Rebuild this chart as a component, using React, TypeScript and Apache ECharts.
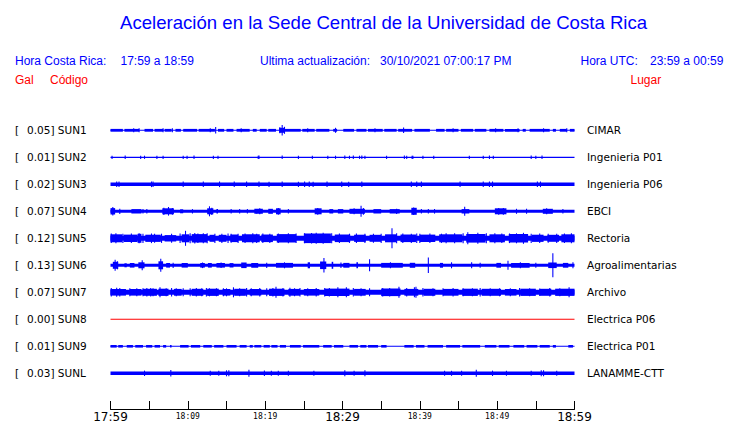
import React, { useEffect, useRef } from "react";
import * as echarts from "echarts";

// ---------- data ----------
const codes = ["SUN1", "SUN2", "SUN3", "SUN4", "SUN5", "SUN6", "SUN7", "SUN8", "SUN9", "SUNL"];
const places = ["CIMAR", "Ingenieria P01", "Ingenieria P06", "EBCI", "Rectoria", "Agroalimentarias", "Archivo", "Electrica P06", "Electrica P01", "LANAMME-CTT"];
const galPeaks = ["0.05", "0.01", "0.02", "0.07", "0.12", "0.13", "0.07", "0.00", "0.01", "0.03"];

// half-amplitude of the continuous band of each trace (display units)
const baseAmp = [0.5, 0.6, 1.7, 1.5, 2.5, 1.5, 2.5, 0.5, 0.5, 1.7];

// bursts: [startMinute, endMinute, halfAmplitude]  (minutes after 17:59)
const sun1Bursts = [[0, 1.6, 1.4], [1.8, 3.7, 1.4], [4.4, 5.5, 1.4], [5.7, 6.8, 1.4], [7.0, 7.9, 1.4], [8.4, 9.1, 1.4], [9.4, 11.2, 1.4], [11.4, 13.5, 1.4], [13.9, 14.7, 1.4], [15.0, 15.9, 1.4], [16.3, 18.0, 1.4], [18.4, 18.9, 1.4], [19.3, 20.2, 1.4], [20.4, 21.4, 1.4], [21.8, 22.5, 2.5], [22.5, 24.6, 1.4], [24.8, 26.4, 1.4], [26.6, 28.3, 1.4], [28.8, 29.3, 1.4], [30.1, 31.5, 1.4], [31.8, 33.1, 1.4], [33.3, 35.2, 1.4], [35.4, 37.0, 1.4], [37.2, 39.0, 1.4], [39.3, 41.3, 1.4], [42.1, 43.2, 1.4], [43.4, 45.0, 1.4], [45.3, 46.9, 1.4], [47.1, 48.6, 1.4], [49.0, 50.8, 1.4], [51.0, 52.9, 1.4], [53.3, 53.7, 1.4], [54.2, 56.8, 1.4], [57.2, 57.6, 1.4], [58.1, 59.0, 1.4], [59.4, 60, 1.4]];
const sun2Bursts = [];
const sun3Bursts = [];
const sun4Bursts = [[0, 0.6, 3.2], [2.7, 4.0, 2.2], [6.7, 8.2, 3.0], [9.0, 9.4, 2], [12.5, 13.3, 3.0], [13.7, 13.9, 2.2], [18.6, 19.7, 2.5], [20.4, 21.0, 2.5], [21.4, 22.0, 3], [26.4, 27.3, 3], [28.3, 28.8, 2.2], [29.4, 30.1, 2.2], [30.9, 32.9, 2.5], [34.0, 35.0, 2.2], [36.1, 37.4, 2.2], [38.9, 39.6, 3.5], [45.4, 46.4, 2.2], [49.7, 51.2, 3], [55.9, 57.2, 2.5]];
const sun5Bursts = [[0, 1.5, 4], [1.7, 3.5, 3.7], [3.5, 4.0, 4.5], [4.5, 6.5, 3.6], [7.0, 8.5, 3.2], [9.2, 10.2, 4], [10.5, 12.5, 4.2], [12.8, 13.5, 3.5], [14.0, 15.0, 3.5], [15.5, 16.5, 3.8], [17.0, 19.3, 4], [19.5, 21.0, 3.8], [21.5, 24.0, 4.2], [25.0, 28.5, 4.8], [29.0, 31.0, 3.8], [31.5, 33.0, 3.6], [33.5, 35.0, 3.5], [35.5, 37.0, 4], [37.5, 39.5, 3.8], [40, 42, 3.7], [42.5, 45.5, 4], [46, 48.5, 4.3], [49, 51, 4], [51.5, 54, 4.3], [54.5, 56, 3.6], [56.5, 58, 3.5], [58.3, 60, 4]];
const sun6Bursts = [[0.3, 1.0, 3.5], [1.8, 2.1, 2], [2.5, 3.1, 2.3], [3.6, 4.4, 3], [6.2, 6.8, 4], [7.2, 7.7, 2.3], [9.2, 10.0, 2.3], [11.6, 12.2, 2.3], [12.6, 13.1, 2.3], [13.7, 14.8, 2.3], [15.4, 15.9, 2.2], [16.9, 17.6, 2.8], [18.2, 19.1, 2.4], [21.4, 23.6, 2.4], [25.5, 25.8, 3], [27.1, 27.9, 3.8], [28.6, 28.8, 3.5], [30.1, 30.9, 2.4], [31.8, 32.0, 3], [35.0, 37.8, 2.4], [38.7, 39.4, 2.5], [42.6, 43.0, 2.4], [49.9, 50.5, 2.4], [51.8, 54.2, 2.4], [56.6, 57.7, 2.8], [58.5, 59.2, 2.4]];
const sun7Bursts = [[0, 2, 3.3], [2.5, 4, 3.3], [4.2, 6.0, 3.5], [6.2, 7.5, 3.6], [8.2, 9.2, 3.4], [10.5, 12, 3.5], [12.5, 14, 3.6], [14.5, 15.5, 3.3], [16, 17.5, 3.5], [18, 19.5, 3.3], [20.5, 22.5, 3.6], [23, 24.5, 3.4], [25, 27, 3.3], [27.7, 30.9, 3.7], [31.5, 33, 3.4], [35, 37.5, 3.8], [38, 39.8, 3.4], [40.5, 42, 3.5], [43, 45, 3.4], [45.5, 47.5, 3.6], [48, 50.5, 3.5], [51, 52.5, 3.3], [53, 55, 3.6], [55.5, 57, 3.5], [57.5, 60, 3.6]];
const sun8Bursts = [];
const sun9Bursts = [[0, 0.8, 1.3], [1.0, 1.6, 1.3], [2.1, 2.9, 1.3], [3.2, 4.2, 1.3], [4.6, 5.4, 1.3], [5.7, 6.4, 1.3], [6.8, 7.2, 1.3], [7.7, 7.9, 1.3], [9.0, 10.1, 1.3], [10.4, 11.6, 1.3], [12.0, 13.1, 1.3], [13.4, 14.6, 1.3], [15.0, 16.3, 1.3], [16.7, 17.6, 1.3], [18.0, 18.4, 1.3], [18.6, 19.5, 1.3], [19.8, 20.6, 1.3], [20.8, 21.6, 1.3], [21.9, 22.7, 1.3], [23.2, 24.6, 1.3], [24.9, 27.0, 1.3], [27.5, 28.6, 1.3], [28.9, 30.1, 1.3], [30.9, 32.0, 1.3], [32.3, 33.1, 1.3], [33.3, 34.6, 1.3], [35.0, 35.7, 1.3], [38.0, 39.2, 1.3], [39.5, 40.6, 1.3], [41.0, 43.0, 1.3], [43.4, 45.2, 1.3], [45.5, 47.8, 1.3], [48.4, 49.9, 1.3], [50.2, 51.6, 1.3], [52.1, 53.5, 1.3], [53.8, 55.2, 1.3], [55.5, 56.8, 1.3], [57.2, 57.6, 1.3], [59.2, 59.8, 1.3]];
const sunLBursts = [];

// spikes: [minute, halfAmplitude]
const sun1Spikes = [[3.0, 2], [3.7, 2], [6.8, 2], [8.0, 2], [12.9, 2], [13.6, 3.2], [16.9, 2], [21.9, 3], [22.2, 5.3], [22.5, 3.5], [25.5, 2], [29.1, 2.5], [34.2, 2], [37.9, 2.7], [44.3, 2], [49.8, 2], [52.7, 2], [56.0, 2], [59.0, 2]];
const sun2Spikes = [[0.2, 1.6], [1.9, 1.8], [3.9, 1.6], [4.4, 1.6], [6.0, 1.6], [6.8, 1.6], [9.4, 1.6], [9.9, 1.6], [10.8, 1.8], [13.3, 1.6], [13.9, 1.6], [19.1, 1.6], [19.2, 1.8], [22.2, 1.8], [24.3, 1.6], [26.1, 1.6], [28.1, 1.6], [29.1, 1.6], [30.3, 1.8], [30.9, 1.6], [31.4, 1.8], [32.2, 1.6], [32.5, 1.8], [32.9, 1.6], [35.7, 1.6], [38.0, 1.8], [38.3, 1.6], [39.0, 1.6], [39.1, 1.6], [40.4, 1.6], [41.8, 1.6], [46.4, 1.6], [48.2, 1.6], [49.0, 1.8], [49.5, 1.6], [54.4, 1.8], [55.0, 1.6], [55.8, 1.8]];
const sun3Spikes = [[0.8, 2.8], [1.1, 2.8], [5.3, 2.8], [5.5, 2.8], [9.4, 2.8], [12.0, 2.8], [14.1, 2.8], [16.0, 2.8], [17.6, 2.8], [19.2, 2.8], [20.5, 2.6], [22.2, 2.8], [24.3, 2.6], [25.1, 2.8], [25.7, 2.8], [26.2, 2.6], [28.0, 2.8], [29.9, 2.8], [30.8, 2.6], [32.5, 2.8], [39.6, 2.8], [38.9, 2.8], [40.2, 2.8], [45.2, 2.8], [48.2, 2.8], [49.0, 2.8], [49.4, 2.8], [55.2, 2.8], [55.6, 2.8]];
const sun4Spikes = [[0.3, 4.2], [1.2, 2.6], [4.2, 2.2], [4.7, 2.2], [6.9, 3.6], [7.5, 4.3], [8.0, 3.4], [10.6, 2.2], [12.8, 5], [13.1, 3.6], [15.6, 2.2], [16.7, 2.2], [17.7, 2.2], [18.9, 2.2], [19.3, 3], [21.7, 3.4], [23.0, 2.3], [26.8, 3.4], [31.5, 3], [32.4, 5.5], [32.7, 3.4], [37.0, 2.6], [39.2, 3.8], [40.2, 2.3], [41.1, 2.3], [41.9, 2.3], [45.8, 4.5], [50.2, 3.4], [50.8, 3.4], [52.5, 2.5], [53.8, 2.5], [56.4, 3], [58.5, 2.3]];
const sun5Spikes = [[0.1, 4.8], [0.7, 5], [1.6, 4.6], [2.7, 4.8], [3.7, 5], [4.2, 4.6], [5.3, 4.8], [5.7, 4.5], [6.6, 4.6], [7.9, 4.5], [9.0, 4.8], [9.7, 7.5], [10.3, 5], [10.9, 5.2], [11.3, 4.8], [12.0, 5], [12.5, 5], [13.5, 4.6], [14.4, 4.6], [15.2, 4.8], [15.6, 4.5], [16.5, 4.6], [17.4, 4.8], [18.4, 5], [18.9, 4.6], [19.7, 4.8], [20.6, 4.6], [21.7, 4.8], [23.0, 5], [24.0, 4.8], [25.1, 5], [26.0, 5.2], [26.6, 5.5], [27.5, 5.5], [28.6, 5], [29.6, 4.8], [30.9, 4.6], [31.8, 4.8], [32.9, 4.6], [34.0, 4.5], [35.0, 4.6], [36.4, 10], [37.0, 5], [37.8, 4.8], [38.9, 4.6], [39.6, 4.8], [40.0, 4.6], [41.3, 4.8], [42.8, 4.6], [43.4, 5], [44.5, 5], [45.6, 5], [46.2, 6], [47.5, 5.5], [48.6, 5], [49.7, 5], [50.6, 4.8], [51.6, 4.8], [52.5, 5], [53.4, 5.5], [54.4, 4.6], [55.5, 4.8], [56.6, 4.5], [57.7, 4.6], [58.7, 4.8], [59.6, 5]];
const sun6Spikes = [[0.6, 5.5], [0.9, 4], [4.1, 5], [6.5, 6.5], [8.1, 2.6], [11.9, 2.8], [14.3, 2.8], [20.2, 2.6], [22.5, 3], [27.6, 7.2], [29.8, 2.8], [33.5, 6], [36.2, 3], [41.1, 7.8], [44.1, 3], [46.7, 3], [47.8, 2.5], [51.4, 4.5], [53.0, 3], [55, 2.5], [57.2, 12], [59.8, 3]];
const sun7Spikes = [[0.1, 4.2], [0.8, 4.5], [1.2, 4.2], [2.5, 4], [3.4, 4], [4.2, 4], [4.7, 4.2], [5.2, 4.2], [5.5, 4], [6.4, 5], [7.2, 4], [7.9, 4.2], [8.5, 4], [9.4, 4], [10.3, 4], [11.1, 4.3], [11.8, 4], [12.4, 4.2], [12.8, 4], [13.7, 4], [14.6, 4], [15.0, 4], [15.9, 5], [16.7, 4], [17.6, 4.2], [18.2, 4], [19.3, 4.2], [20.2, 4], [21.0, 4.2], [21.4, 5.5], [22.3, 4.2], [23.2, 4.5], [23.8, 4], [24.5, 4.2], [25.5, 4], [26.6, 4.2], [27.7, 4.3], [28.3, 4.2], [29.4, 5], [30.5, 5], [31.4, 4.2], [32.4, 4], [33.5, 4], [35.2, 4.2], [36.1, 4.3], [37.3, 5.5], [38.3, 4.2], [39.3, 5], [39.5, 5.5], [40.4, 4.2], [41.7, 4], [43.0, 4], [44.3, 4.2], [45.6, 4], [46.8, 4], [47.8, 4.2], [49.1, 4], [50.3, 4], [51.7, 4], [52.9, 4.2], [54.2, 4], [55.5, 3.8], [56.8, 4.2], [58.1, 4], [59.3, 5]];
const sun8Spikes = [];
const sun9Spikes = [];
const sunLSpikes = [[4.4, 2.7], [7.8, 3.3], [12.9, 2.5], [14.0, 2.5], [15.0, 3], [15.3, 3], [17.9, 3.5], [19.9, 2.7], [20.8, 2.5], [21.7, 2.5], [23.0, 2.5], [26.3, 2.5], [30.3, 3], [31.5, 2.5], [32.9, 3], [43.2, 2.5], [44.1, 2.5], [45.4, 2.5], [47.3, 3.5], [49.4, 2.7], [51.2, 2.5], [54.4, 2.5], [55.7, 3], [56.0, 3], [57.7, 2.5]];

const bursts = [sun1Bursts, sun2Bursts, sun3Bursts, sun4Bursts, sun5Bursts, sun6Bursts, sun7Bursts, sun8Bursts, sun9Bursts, sunLBursts];
const spikes = [sun1Spikes, sun2Spikes, sun3Spikes, sun4Spikes, sun5Spikes, sun6Spikes, sun7Spikes, sun8Spikes, sun9Spikes, sunLSpikes];

const tickLabels = ["17:59", "18:04", "18:09", "18:14", "18:19", "18:24", "18:29", "18:34", "18:39", "18:44", "18:49", "18:54", "18:59"];
const bigLabels = ["17:59", "18:29", "18:59"];
const smallLabels = ["18:09", "18:19", "18:39", "18:49"];

// ---------- styling / layout ----------
const BLUE = "#0000ff";
const RED = "#ff0000";
const traceColors = [BLUE, BLUE, BLUE, BLUE, BLUE, BLUE, BLUE, RED, BLUE, BLUE];
const LEFT = 110.5;
const WIDTH = 464;
const ROW0 = 130.3;
const STEP = 27;
const HALF = 13;
const SPIKE_W = 0.14;

function text(x: number, y: number, s: string, font: string, fill: string) {
  return {
    type: "text",
    x,
    y,
    silent: true,
    style: { text: s, font, fill, align: "left", verticalAlign: "middle", textAlign: "left", textVerticalAlign: "middle" },
  };
}

export default function App() {
  const ref = useRef<HTMLDivElement>(null);
  useEffect(() => {
    document.body.style.margin = "0";
    const chart = echarts.init(ref.current!, null, { renderer: "svg" });
    const n = codes.length;
    const grids: any[] = [];
    const xAxes: any[] = [];
    const yAxes: any[] = [];
    const series: any[] = [];
    for (let i = 0; i < n; i++) {
      grids.push({ left: LEFT, top: ROW0 + i * STEP - HALF, width: WIDTH, height: 2 * HALF });
      xAxes.push({ type: "value", gridIndex: i, min: 0, max: 60, show: false });
      yAxes.push({ type: "value", gridIndex: i, min: -HALF, max: HALF, show: false });
      const color = traceColors[i];
      const data: number[][] = [[0, 60, baseAmp[i]]];
      bursts[i].forEach((b) => data.push([b[0], b[1], b[2]]));
      spikes[i].forEach((s) => data.push([s[0] - SPIKE_W / 2, s[0] + SPIKE_W / 2, s[1]]));
      series.push({
        type: "custom",
        xAxisIndex: i,
        yAxisIndex: i,
        clip: false,
        silent: true,
        data,
        renderItem: (params: any, api: any) => {
          const s = api.value(0);
          const e = api.value(1);
          const a = api.value(2);
          const p0 = api.coord([s, a]);
          const p1 = api.coord([e, -a]);
          return {
            type: "rect",
            shape: { x: p0[0], y: p0[1], width: Math.max(p1[0] - p0[0], 1), height: Math.max(p1[1] - p0[1], 1) },
            style: { fill: color },
          };
        },
      });
    }
    // time axis grid
    grids.push({ left: LEFT, top: 385, width: WIDTH, height: 24 });
    xAxes.push({
      type: "value",
      gridIndex: n,
      min: 0,
      max: 60,
      interval: 5,
      axisLine: { show: true, onZero: false, lineStyle: { color: "#000", width: 1 } },
      axisTick: { show: true, inside: true, length: 8, lineStyle: { color: "#000", width: 1 } },
      splitLine: { show: false },
      axisLabel: {
        margin: 2,
        showMinLabel: true,
        showMaxLabel: true,
        hideOverlap: false,
        formatter: (v: number) => {
          const t = tickLabels[Math.round(v / 5)];
          if (bigLabels.includes(t)) return `{big|${t}}`;
          if (smallLabels.includes(t)) return `{small|${t}}`;
          return "";
        },
        rich: {
          big: { fontSize: 12, fontFamily: "DejaVu Sans", color: "#000" },
          small: { fontSize: 8, fontFamily: "DejaVu Sans Mono", color: "#000", padding: [1, 0, 0, 0] },
        },
      },
    });
    yAxes.push({ type: "value", gridIndex: n, min: 0, max: 1, show: false });
    series.push({ type: "line", xAxisIndex: n, yAxisIndex: n, data: [], silent: true });

    const graphics: any[] = [];
    graphics.push(text(120, 22, "Aceleración en la Sede Central de la Universidad de Costa Rica", "18.6px 'Liberation Sans'", BLUE));
    const hf = "12px 'Liberation Sans'";
    graphics.push(text(15, 60.5, "Hora Costa Rica:", hf, BLUE));
    graphics.push(text(120.5, 60.5, "17:59 a 18:59", hf, BLUE));
    graphics.push(text(260, 60.5, "Ultima actualización:", hf, BLUE));
    graphics.push(text(380, 60.5, "30/10/2021 07:00:17 PM", hf, BLUE));
    graphics.push(text(580.5, 60.5, "Hora UTC:", hf, BLUE));
    graphics.push(text(650, 60.5, "23:59 a 00:59", hf, BLUE));
    graphics.push(text(15, 80, "Gal", hf, RED));
    graphics.push(text(50, 80, "Código", hf, RED));
    graphics.push(text(630.5, 80, "Lugar", hf, RED));
    const lf = "10.5px 'DejaVu Sans'";
    for (let i = 0; i < n; i++) {
      const y = ROW0 + i * STEP;
      graphics.push(text(15, y, "[", lf, "#000"));
      graphics.push(text(27, y, `${galPeaks[i]}] ${codes[i]}`, lf, "#000"));
      graphics.push(text(587, y, places[i], lf, "#000"));
    }

    chart.setOption({
      animation: false,
      backgroundColor: "#fff",
      grid: grids,
      xAxis: xAxes,
      yAxis: yAxes,
      series,
      graphic: { elements: graphics },
    });
    return () => chart.dispose();
  }, []);
  return <div ref={ref} style={{ width: 740, height: 423 }} />;
}
